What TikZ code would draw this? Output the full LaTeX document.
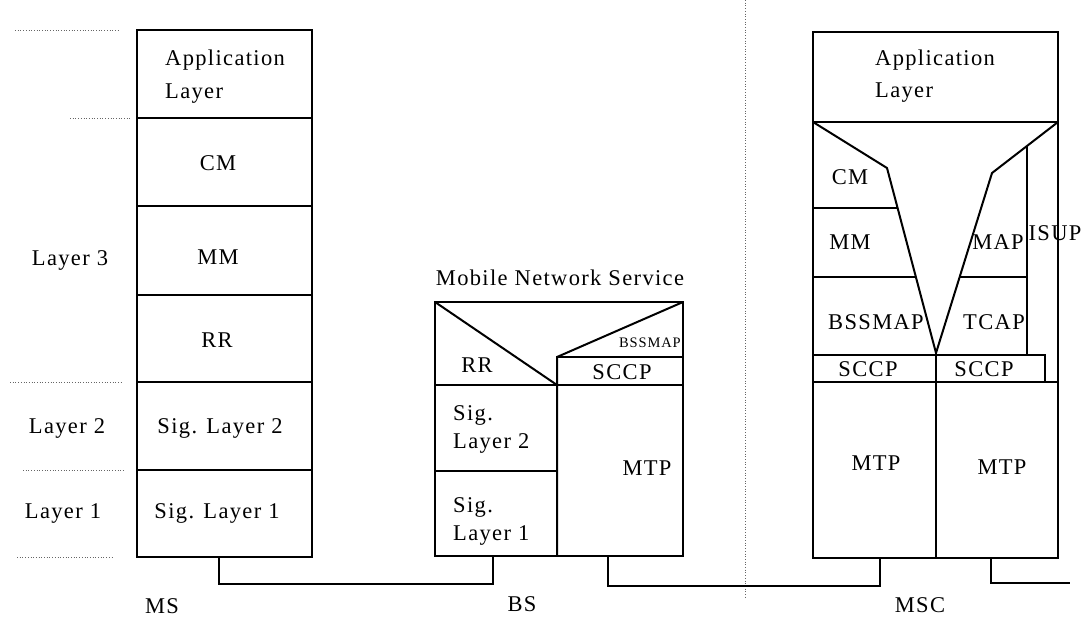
\documentclass[tikz,border=0pt]{standalone}
\usepackage{fontspec}
\setmainfont{Liberation Serif}[LetterSpace=6]
\begin{document}
\begin{tikzpicture}[x=1pt,y=-1pt,
  box/.style={line width=2pt, line join=miter},
  dotl/.style={dotted, line width=0.7pt, black!60},
  conn/.style={line width=2pt},
  lbl/.style={font=\fontsize{22.5}{30}\selectfont, inner sep=0pt},
  smalllbl/.style={font=\fontsize{14.5}{16}\selectfont, inner sep=0pt}]
\useasboundingbox (0,0) rectangle (1083,619);

% ---------- dotted guide lines ----------
\draw[dotl] (15,30) -- (118,30);
\draw[dotl] (70,118) -- (130,118);
\draw[dotl] (10,382) -- (123,382);
\draw[dotl] (23,470) -- (123,470);
\draw[dotl] (17,557) -- (113,557);
\draw[dotl] (745,0) -- (745,597);

% ---------- MS stack ----------
\draw[box] (137,30) rectangle (312,557);
\foreach \yy in {118,206,295,382,470} \draw[box] (137,\yy) -- (312,\yy);
\node[lbl,anchor=west,align=left,font=\fontsize{22.5}{33}\selectfont] (msapp) at (165,77) {Application\\Layer};
\node[lbl] (mscm) at (218,163) {CM};
\node[lbl] (msmm) at (218,257) {MM};
\node[lbl] (msrr) at (217,340) {RR};
\node[lbl] (mssl2) at (220,428) {Sig. Layer 2};
\node[lbl] (mssl1) at (217,513) {Sig. Layer 1};
\node[lbl] (l3) at (70,260) {Layer 3};
\node[lbl] (l2) at (67,428) {Layer 2};
\node[lbl] (l1) at (63,513) {Layer 1};
\node[lbl] (mslbl) at (162,606) {MS};

% ---------- BS stack ----------
\draw[box] (435,302) rectangle (683,556);
\draw[box] (435,302) -- (557,385);
\draw[box] (435,385) -- (683,385);
\draw[box] (683,302) -- (557,357) -- (557,556);
\draw[box] (557,357) -- (683,357);
\draw[box] (435,471) -- (557,471);
\node[lbl] (mns) at (560,278) {Mobile Network Service};
\node[lbl] (bsrr) at (477,365) {RR};
\node[smalllbl] (bsbssmap) at (650,343) {BSSMAP};
\node[lbl] (bssccp) at (622,372) {SCCP};
\node[lbl,anchor=west,align=left,font=\fontsize{22.5}{28}\selectfont] (bssl2) at (453,429) {Sig.\\Layer 2};
\node[lbl,anchor=west,align=left,font=\fontsize{22.5}{28}\selectfont] (bssl1) at (453,521) {Sig.\\Layer 1};
\node[lbl] (bsmtp) at (647,468) {MTP};
\node[lbl] (bslbl) at (522,604) {BS};

% ---------- MSC stack ----------
\draw[box] (813,32) rectangle (1058,558);
\draw[box] (813,122) -- (1058,122);
\draw[box] (813,122) -- (887,168) -- (936,353) -- (992,173) -- (1058,122);
\draw[box] (1027,146) -- (1027,355);
\draw[box] (813,208) -- (897.6,208);
\draw[box] (813,277) -- (915.9,277);
\draw[box] (959.6,277) -- (1027,277);
\draw[box] (813,355) -- (1045,355) -- (1045,382);
\draw[box] (813,382) -- (1058,382);
\draw[box] (936,353) -- (936,558);
\node[lbl,anchor=west,align=left,font=\fontsize{22.5}{32}\selectfont] (mscapp) at (875,76) {Application\\Layer};
\node[lbl] (msccm) at (850,177) {CM};
\node[lbl] (mscmm) at (850,242) {MM};
\node[lbl] (mscmap) at (998,242) {MAP};
\node[lbl] (mscisup) at (1055,233) {ISUP};
\node[lbl] (mscbssmap) at (876,322) {BSSMAP};
\node[lbl] (msctcap) at (994,322) {TCAP};
\node[lbl] (mscsccpl) at (868,369) {SCCP};
\node[lbl] (mscsccpr) at (984,369) {SCCP};
\node[lbl] (mscmtpl) at (876,463) {MTP};
\node[lbl] (mscmtpr) at (1002,467) {MTP};
\node[lbl] (msclbl) at (920,605) {MSC};

% ---------- connectors ----------
\coordinate (msP) at (219,557);
\coordinate (bsL) at (493,556);
\coordinate (bsR) at (608,556);
\coordinate (mscL) at (880,558);
\coordinate (mscR) at (991,558);
\coordinate (outE) at (1070,583);
\draw[conn] (msP) -- ++(0,27) -| (bsL);
\draw[conn] (bsR) -- ++(0,30) -| (mscL);
\draw[conn] (mscR) |- (outE);
\end{tikzpicture}
\end{document}
